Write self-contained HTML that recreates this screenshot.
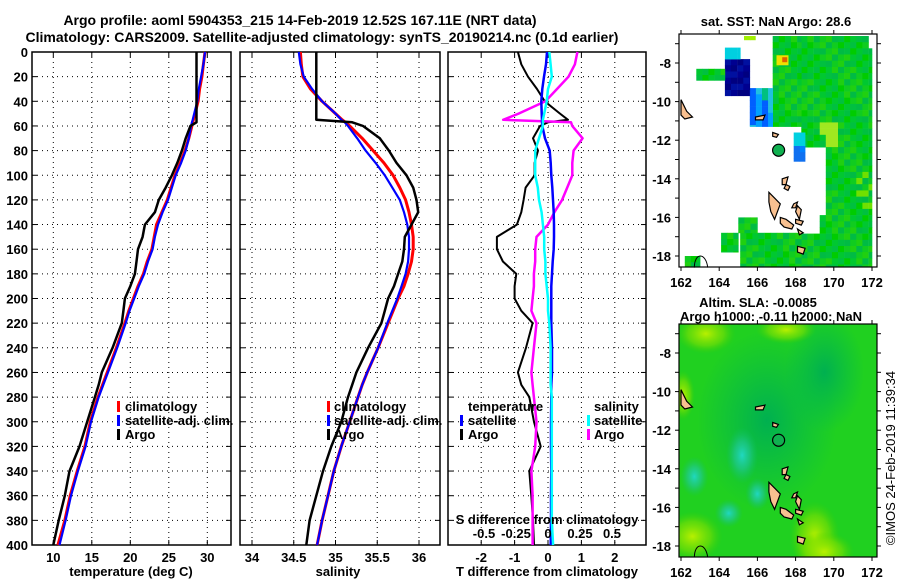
<!DOCTYPE html>
<html><head><meta charset="utf-8"><title>Argo profile</title>
<style>
html,body{margin:0;padding:0;background:#fff;}
svg{display:block;font-family:"Liberation Sans",Arial,sans-serif;}
.b{font-weight:bold;font-size:13px;}
.t{font-weight:bold;font-size:14px;}
</style></head>
<body>
<svg id="fig" width="900" height="580" viewBox="0 0 900 580" xmlns="http://www.w3.org/2000/svg">
<rect x="0" y="0" width="900" height="580" fill="#fff"/>
<text class="t" x="300" y="25" text-anchor="middle">Argo profile: aoml 5904353_215 14-Feb-2019 12.52S 167.11E (NRT data)</text>
<text class="t" x="322" y="42" text-anchor="middle">Climatology: CARS2009. Satellite-adjusted climatology: synTS_20190214.nc (0.1d earlier)</text>
<g id="p1"></g>
<g id="p2"></g>
<g id="p3"></g>
<g id="m1"></g>
<g id="m2"></g>
<text x="895" y="458" font-size="13" text-anchor="middle" transform="rotate(-90 895 458)">©IMOS 24-Feb-2019 11:39:34</text>
</svg>
<script>
// ---- data ----
const depths = [0,10,20,30,40,50,55,57,60,70,80,90,100,110,120,130,140,150,160,170,180,190,200,210,220,240,260,270,280,300,320,340,360,380,400];
const tempClim = [29.7,29.5,29.3,29.0,28.8,28.4,28.2,28.1,28.0,27.6,27.1,26.5,25.8,25.3,24.8,24.1,23.4,23.1,22.8,22.2,21.7,21.0,20.4,19.8,19.3,18.2,17.0,16.4,15.8,14.8,14.1,13.1,12.2,11.5,10.6];
const tempSat  = [29.7,29.5,29.2,28.9,28.7,28.3,28.1,28.0,27.9,27.6,27.2,26.6,25.9,25.4,24.9,24.2,23.6,23.2,22.9,22.3,21.8,21.1,20.5,19.9,19.4,18.3,17.1,16.5,15.9,14.9,14.2,13.2,12.3,11.6,10.8];
const tempArgo = [28.6,28.6,28.6,28.6,28.6,28.6,28.6,28.6,27.8,27.2,26.7,26.1,25.4,24.6,23.7,23.2,21.9,21.6,21.0,20.8,20.6,20.0,19.3,19.1,18.9,17.7,16.3,15.9,15.4,14.4,13.4,12.1,11.5,10.7,10.0];
const salClim = [34.58,34.59,34.61,34.70,34.84,35.00,35.08,35.12,35.17,35.32,35.45,35.58,35.69,35.77,35.84,35.88,35.91,35.93,35.93,35.91,35.87,35.82,35.75,35.69,35.63,35.51,35.38,35.32,35.27,35.17,35.07,34.98,34.91,34.84,34.78];
const salSat  = [34.56,34.58,34.62,34.72,34.84,35.00,35.07,35.11,35.15,35.26,35.36,35.48,35.59,35.68,35.77,35.82,35.86,35.88,35.88,35.87,35.84,35.79,35.74,35.68,35.62,35.51,35.38,35.32,35.27,35.17,35.07,34.98,34.91,34.84,34.78];
const salArgo = [34.77,34.77,34.77,34.77,34.77,34.77,34.77,35.2,35.33,35.53,35.64,35.73,35.85,35.93,35.97,35.99,35.91,35.83,35.82,35.80,35.75,35.70,35.63,35.59,35.55,35.39,35.25,35.20,35.15,35.07,34.95,34.85,34.77,34.69,34.65];
const dTsat  = [-0.03,-0.06,-0.12,-0.17,-0.2,-0.19,-0.18,-0.18,-0.17,-0.09,0.05,0.08,0.1,0.13,0.15,0.17,0.18,0.18,0.17,0.14,0.12,0.1,0.1,0.1,0.1,0.12,0.12,0.1,0.1,0.09,0.09,0.1,0.09,0.09,0.08];
const dTargo = [-0.9,-0.8,-0.6,-0.33,-0.1,0.36,0.6,0.0,-0.24,-0.45,-0.3,-0.4,-0.4,-0.67,-0.73,-0.8,-0.93,-1.53,-1.53,-1.35,-0.95,-1.0,-1.0,-0.8,-0.46,-0.66,-0.9,-0.8,-0.56,-0.42,-0.22,-0.56,-0.5,-0.45,-0.42];
const dSsat  = [0.01,0.02,0.03,0.0,-0.01,-0.03,-0.04,-0.04,-0.04,-0.07,-0.1,-0.1,-0.1,-0.08,-0.07,-0.05,-0.04,-0.03,-0.03,-0.02,-0.02,-0.01,0.0,0.0,0.01,0.02,0.02,0.02,0.03,0.03,0.03,0.03,0.03,0.03,0.04];
const dSargo = [0.23,0.21,0.16,0.07,-0.02,-0.23,-0.35,0.18,0.19,0.27,0.2,0.19,0.19,0.15,0.11,0.05,0.0,-0.09,-0.1,-0.1,-0.11,-0.11,-0.12,-0.13,-0.09,-0.11,-0.13,-0.12,-0.11,-0.09,-0.1,-0.13,-0.12,-0.12,-0.12];
const depthTicks = [0,20,40,60,80,100,120,140,160,180,200,220,240,260,280,300,320,340,360,380,400];
const tempTicks = [10,15,20,25,30];
const salTicks = [34,34.5,35,35.5,36];
const dTTicks = [-2,-1,0,1,2];
const dSTicks = [-0.5,-0.25,0,0.25,0.5];
const argoLon = 167.11, argoLat = -12.52;

const NS = 'http://www.w3.org/2000/svg';
function mk(tag, parent, attrs){const e=document.createElementNS(NS,tag);for(const k in attrs)e.setAttribute(k,attrs[k]);parent.appendChild(e);return e;}
const Y0=52, Y1=545;
const yD = d => Y0 + d*(Y1-Y0)/400;
function panel(g, x0, x1, xs, ticks, fmt, name){
  ticks.forEach(v=>{const x=xs(v);
    const l=mk('line',g,{x1:x,x2:x,y1:Y0,y2:Y1,stroke:'#000','stroke-dasharray':'1,4','stroke-width':1});
    
    
    mk('line',g,{x1:x,x2:x,y1:Y1,y2:Y1-5,stroke:'#000'});
    mk('line',g,{x1:x,x2:x,y1:Y0,y2:Y0+5,stroke:'#000'});
    if(fmt){const t=mk('text',g,{x:x,y:562,'text-anchor':'middle',class:'b'});t.textContent=fmt(v);
      
      }
  });
  depthTicks.forEach(d=>{const y=yD(d);
    if(d>0&&d<400){const l=mk('line',g,{x1:x0,x2:x1,y1:y,y2:y,stroke:'#000','stroke-dasharray':'1,4'});
      
      }
    mk('line',g,{x1:x0,x2:x0+5,y1:y,y2:y,stroke:'#000'});
    mk('line',g,{x1:x1,x2:x1-5,y1:y,y2:y,stroke:'#000'});
  });
  const r=mk('rect',g,{x:x0,y:Y0,width:x1-x0,height:Y1-Y0,fill:'none',stroke:'#000','stroke-width':1.5});
  
  
}
function line(g, vals, xs, color, w, name){
  const pts=vals.map((v,i)=>xs(v).toFixed(1)+','+yD(depths[i]).toFixed(1)).join(' ');
  const p=mk('polyline',g,{points:pts,fill:'none',stroke:color,'stroke-width':w,'stroke-linejoin':'round'});
  
  
}
function txt(g,x,y,s,name,anchor){const t=mk('text',g,{x:x,y:y,class:'b','text-anchor':anchor||'start'});t.textContent=s;
  
  return t;}
function bar(g,x,y,color,name){const r=mk('rect',g,{x:x,y:y-10,width:3,height:11,fill:color});
  
  }

const p1=document.getElementById('p1');
const xT = v => 53.3 + (v-10)*7.7;
panel(p1,32,231,xT,tempTicks,v=>String(v),'temperature');
depthTicks.forEach(d=>{txt(p1,28,yD(d)+5,String(d),'depth-tick-label','end');});
line(p1,tempClim,xT,'#ff0000',3,'temperature-climatology-line');
line(p1,tempSat,xT,'#0000ff',2.2,'temperature-satellite-line');
line(p1,tempArgo,xT,'#000',2.5,'temperature-argo-line');
txt(p1,131,576,'temperature (deg C)','temperature-axis-title','middle');
bar(p1,117,411,'#f00','legend-climatology-swatch');txt(p1,125,411,'climatology','legend-climatology');
bar(p1,117,425,'#00f','legend-satellite-swatch');txt(p1,125,425,'satellite-adj. clim.','legend-satellite');
bar(p1,117,439,'#000','legend-argo-swatch');txt(p1,125,439,'Argo','legend-argo');

const p2=document.getElementById('p2');
const xS = v => 252 + (v-34)*83.5;
panel(p2,240,440,xS,salTicks,v=>String(v),'salinity');
line(p2,salClim,xS,'#ff0000',3,'salinity-climatology-line');
line(p2,salSat,xS,'#0000ff',2.2,'salinity-satellite-line');
line(p2,salArgo,xS,'#000',2.5,'salinity-argo-line');
txt(p2,338,576,'salinity','salinity-axis-title','middle');
bar(p2,327,411,'#f00','legend2-climatology-swatch');txt(p2,334,411,'climatology','legend2-climatology');
bar(p2,327,425,'#00f','legend2-satellite-swatch');txt(p2,334,425,'satellite-adj. clim.','legend2-satellite');
bar(p2,327,439,'#000','legend2-argo-swatch');txt(p2,334,439,'Argo','legend2-argo');

const p3=document.getElementById('p3');
const xdT = v => 548 + v*33.4;
const xdS = v => 548 + v*128;
panel(p3,448,646,xdT,dTTicks,v=>String(v),'difference');
line(p3,dTargo,xdT,'#000',2,'t-diff-argo-line');
line(p3,dSargo,xdS,'#ff00ff',2.5,'s-diff-argo-line');
line(p3,dTsat,xdT,'#0000ff',2.5,'t-diff-satellite-line');
line(p3,dSsat,xdS,'#00ffff',2.5,'s-diff-satellite-line');
txt(p3,547,576,'T difference from climatology','t-diff-axis-title','middle');
txt(p3,547,524,'S difference from climatology','s-diff-axis-title','middle');
dSTicks.forEach(v=>txt(p3,xdS(v),538,String(v),'s-diff-tick-label','middle'));
txt(p3,468,411,'temperature','legend3-temperature-heading');
bar(p3,460,425,'#00f','legend3-t-satellite-swatch');txt(p3,468,425,'satellite','legend3-t-satellite');
bar(p3,460,439,'#000','legend3-t-argo-swatch');txt(p3,468,439,'Argo','legend3-t-argo');
txt(p3,594,411,'salinity','legend3-salinity-heading');
bar(p3,587,425,'#0ff','legend3-s-satellite-swatch');txt(p3,594,425,'satellite','legend3-s-satellite');
bar(p3,587,439,'#f0f','legend3-s-argo-swatch');txt(p3,594,439,'Argo','legend3-s-argo');

const lonTicks=[162,164,166,168,170,172];
const latTicks=[-8,-10,-12,-14,-16,-18];
function mapFrame(g, top, bottom, lat8y, lat18y, name){
  const ML=679, MR=877;
  const lx = lon => 681 + (lon-162)*19.1;
  const ly = lat => lat8y + (-8-lat)*(lat18y-lat8y)/10;
  return {ML,MR,lx,ly,finish(){
    const r=mk('rect',g,{x:ML,y:top,width:MR-ML,height:bottom-top,fill:'none',stroke:'#000','stroke-width':1.2});
    
    
    lonTicks.forEach(v=>{const x=lx(v);mk('line',g,{x1:x,x2:x,y1:bottom,y2:bottom+4,stroke:'#000'});mk('line',g,{x1:x,x2:x,y1:top,y2:top-4,stroke:'#000'});
      txt(g,x,bottom+20,String(v),name+'-lon-label','middle');});
    for(let la=-7;la>=-18;la--){const y=ly(la);mk('line',g,{x1:ML,x2:ML-4,y1:y,y2:y,stroke:'#000'});mk('line',g,{x1:MR,x2:MR+4,y1:y,y2:y,stroke:'#000'});}
    latTicks.forEach(v=>txt(g,ML-8,ly(v)+5,String(v),name+'-lat-label','end'));
  }};
}
function islands(g,lx,ly,white){
  const shapes=[
    [[162,-9.9],[162.3,-10.5],[162.6,-10.8],[162.2,-10.9],[162,-10.7]],
    [[165.9,-10.8],[166.4,-10.7],[166.3,-10.95],[165.9,-10.95]],
    [[166.8,-11.6],[167.1,-11.7],[167.0,-11.85],[166.8,-11.8]],
    [[167.3,-14.0],[167.6,-13.9],[167.5,-14.3],[167.3,-14.3]],
    [[167.5,-14.3],[167.7,-14.4],[167.6,-14.6],[167.4,-14.5]],
    [[166.6,-14.7],[166.9,-15.0],[167.2,-15.3],[166.9,-16.1],[166.7,-15.7],[166.6,-15.2]],
    [[167.2,-16.0],[167.5,-16.1],[167.9,-16.4],[167.8,-16.6],[167.4,-16.5],[167.2,-16.3]],
    [[167.9,-15.3],[168.1,-15.2],[168.0,-15.5],[167.8,-15.5]],
    [[168.1,-15.4],[168.3,-15.6],[168.2,-16.1],[168.0,-15.7]],
    [[168.0,-16.1],[168.4,-16.2],[168.3,-16.4],[168.0,-16.3]],
    [[168.1,-16.6],[168.4,-16.8],[168.2,-16.9]],
    [[168.1,-17.5],[168.5,-17.6],[168.4,-17.9],[168.1,-17.8]]
  ];
  shapes.forEach(s=>{const p=mk('polygon',g,{points:s.map(q=>lx(q[0]).toFixed(1)+','+ly(q[1]).toFixed(1)).join(' '),fill:'#f8c090',stroke:white?'#fff':'#000','stroke-width':1.2});
    
    });
  const c=mk('path',g,{d:`M${lx(162.7)} ${ly(-18.6)} C${lx(162.7)} ${ly(-17.8)} ${lx(163.3)} ${ly(-17.8)} ${lx(163.4)} ${ly(-18.6)}`,fill:'none',stroke:'#000'});
  
  
}
(function(){
  const g=document.getElementById('m1');
  const f=mapFrame(g,34,267,63,256,'sst-map');
  const regions=[
    [168.3,172.0,-6.6,-18.55,'g'],[166.8,168.3,-6.6,-11.3,'g'],[165.6,166.8,-9.3,-11.3,'b'],
    [164.3,165.6,-7.8,-9.7,'n'],[164.3,165.1,-7.2,-7.8,'c'],[162.8,164.3,-8.3,-8.9,'g'],
    [165.1,168.3,-16.8,-18.55,'g'],[164.1,165.0,-16.8,-17.8,'g'],[165.0,166.0,-16.0,-16.8,'g'],
    [167.9,168.5,-11.6,-12.3,'c'],[167.9,168.5,-12.3,-13.1,'b2'],[162.2,163.0,-18.0,-18.55,'g'],
    [165.3,165.9,-6.6,-6.8,'y']];
  const pal={g:['#00c830','#10cc20','#00c040','#20d010','#00cc00','#00bb44'],b:['#00a0ff','#20c0e0','#0060ff','#00c080'],
    n:['#000080','#000090','#0010a0'],c:['#00d0e0'],b2:['#0080ff','#1070f0'],y:['#a0f000']};
  const step=0.32;
  regions.forEach(r=>{
    for(let lo=r[0];lo<r[1]-0.01;lo+=step)for(let la=r[2];la>r[3]+0.01;la-=step){
      if(lo<169.4&&lo>=168.3&&la<-12.2&&la>-15.8)continue;
      if(lo<169.0&&lo>=168.3&&la<-15.8&&la>-16.8)continue;
      if(lo>171.6&&la>-7.2)continue;
      const set=pal[r[4]];const k=Math.abs(Math.round(lo*7+la*13))%set.length;
      let col=set[k];
      if(r[4]==='g'&&lo>169&&lo<170&&la<-11&&la>-12.3&&k%2)col='#a0e820';
      if(r[4]==='g'&&lo>171&&la<-13.5&&la>-15.5&&k%3===0)col='#70e000';
      const x0=f.lx(lo),x1=Math.min(f.lx(Math.min(lo+step,r[1])),f.MR),y0=f.ly(la),y1=Math.min(f.ly(Math.max(la-step,r[3])),267);
      mk('rect',g,{x:x0.toFixed(1),y:y0.toFixed(1),width:(x1-x0+0.3).toFixed(1),height:(y1-y0+0.3).toFixed(1),fill:col});
    }
  });
  mk('rect',g,{x:f.lx(167.0),y:f.ly(-7.6),width:12,height:10,fill:'#f0e000'});
  mk('rect',g,{x:f.lx(167.3),y:f.ly(-7.7),width:5,height:5,fill:'#e06000'});
  islands(g,f.lx,f.ly,false);
  const a=mk('circle',g,{cx:f.lx(argoLon),cy:f.ly(argoLat),r:6,fill:'#10b050',stroke:'#000','stroke-width':1.2});
  
  
  f.finish();
  txt(g,776,26,'sat. SST: NaN Argo: 28.6','sst-map-title','middle');
})();
(function(){
  const g=document.getElementById('m2');
  const f=mapFrame(g,324,557,353,546,'sla-map');
  const defs=mk('defs',g,{});
  defs.innerHTML=`
  <radialGradient id="cy1"><stop offset="0" stop-color="#20d8c0"/><stop offset="0.5" stop-color="#20c8a0" stop-opacity="0.6"/><stop offset="1" stop-color="#10c070" stop-opacity="0"/></radialGradient>
  <radialGradient id="yl"><stop offset="0" stop-color="#b8f000"/><stop offset="0.6" stop-color="#80e000" stop-opacity="0.6"/><stop offset="1" stop-color="#40d000" stop-opacity="0"/></radialGradient>
  <radialGradient id="dk"><stop offset="0" stop-color="#00b050"/><stop offset="1" stop-color="#00b850" stop-opacity="0"/></radialGradient>
  <clipPath id="mc2"><rect x="679" y="324" width="198" height="233"/></clipPath>`;
  const cg=mk('g',g,{'clip-path':'url(#mc2)'});
  mk('rect',cg,{x:679,y:324,width:198,height:233,fill:'#20d020'});
  const blobs=[[166.5,-11.5,70,90,'dk'],[169.5,-9,40,60,'dk'],[162.6,-17.5,30,25,'yl'],[163.3,-7,30,20,'yl'],[167.5,-6.8,30,14,'yl'],
    [169.0,-17.5,25,35,'yl'],[169.5,-18.3,30,20,'yl'],[162.1,-10.2,12,25,'yl'],
    [165.2,-13.3,16,28,'cy1'],[162.7,-14.4,14,20,'cy1'],[164.5,-16.3,14,14,'cy1'],[166,-15.3,12,16,'cy1']];
  blobs.forEach(b=>mk('ellipse',cg,{cx:f.lx(b[0]),cy:f.ly(b[1]),rx:b[2],ry:b[3],fill:`url(#${b[4]})`}));
  islands(cg,f.lx,f.ly,false);
  const a=mk('circle',g,{cx:f.lx(argoLon),cy:f.ly(argoLat),r:6,fill:'#10b050',stroke:'#000','stroke-width':1.2});
  
  
  f.finish();
  txt(g,758,307,'Altim. SLA: -0.0085','sla-map-title','middle');
  txt(g,771,321,'Argo h1000: -0.11 h2000: NaN','sla-map-subtitle','middle');
})();
</script>
</body></html>
